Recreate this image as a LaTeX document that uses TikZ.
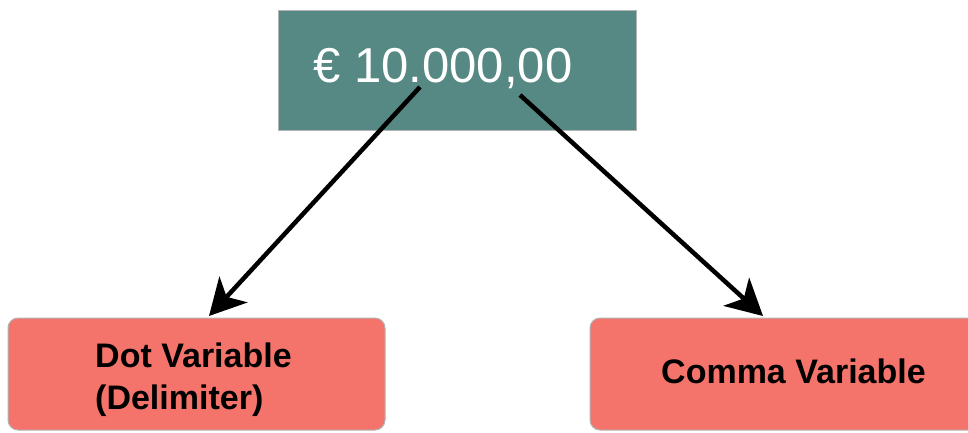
\documentclass[tikz,border=0pt]{standalone}
\usepackage{fontspec}
\setmainfont{Liberation Sans}
\usetikzlibrary{arrows.meta}
\definecolor{tealbox}{HTML}{568884}
\definecolor{salmonbox}{HTML}{F4736A}
\definecolor{edgegray}{HTML}{B4B4B4}
\begin{document}
\begin{tikzpicture}[x=1pt,y=-1pt,
 valbox/.style={draw=edgegray, line width=1pt, fill=tealbox, minimum width=358pt, minimum height=120pt, inner sep=0pt},
 catbox/.style={draw=edgegray, line width=1pt, fill=salmonbox, rounded corners=10pt, inner sep=0pt, minimum height=112pt},
 catlabel/.style={font=\fontsize{34}{42}\selectfont\bfseries, text=black, align=left, inner sep=0pt},
 arrowline/.style={line width=4.5pt, -{Stealth[length=36pt,width=38pt,inset=10pt]}}]
\clip (0,0) rectangle (968,432);
\fill[white] (0,0) rectangle (968,432);
\node[valbox] (val) at (457,70) {};
\node[font=\fontsize{49}{55}\selectfont, text=white, inner sep=0pt, anchor=base] (valtext) at (443,82) {€ 10.000,00};
\node[catbox, minimum width=377pt] (dot) at (196.5,374) {};
\node[catlabel, anchor=west] (dottext) at (95,380) {Dot Variable\\(Delimiter)};
\node[catbox, minimum width=400pt] (comma) at (790,374) {};
\node[catlabel, anchor=base west] (commatext) at (661,383) {Comma Variable};
\coordinate (s1) at (420,87);
\coordinate (t1) at (209,316);
\coordinate (s2) at (520,95);
\coordinate (t2) at (763,316);
\draw[arrowline] (s1) -- (t1);
\draw[arrowline] (s2) -- (t2);
\end{tikzpicture}
\end{document}
